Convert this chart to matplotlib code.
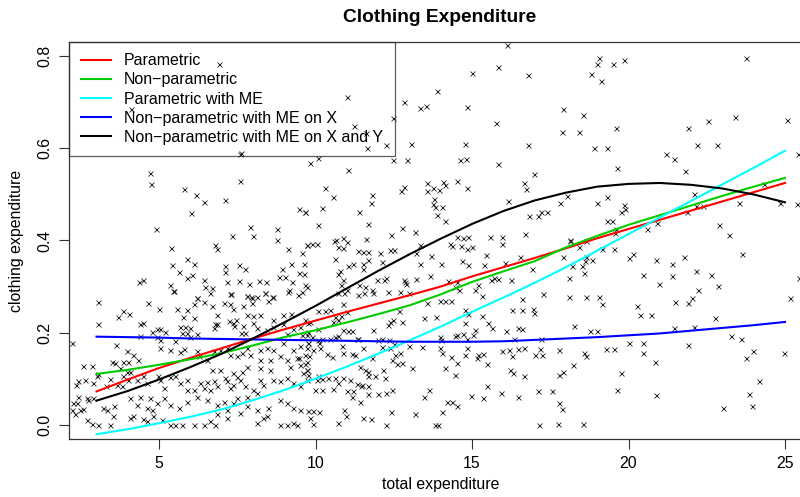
import matplotlib.pyplot as plt

plt.rcParams['font.family'] = ['Liberation Sans', 'DejaVu Sans']

pts_low_left = [
    (3.06, .267), (4.64, .265), (5.46, .290), (6.20, .276), (6.13, .263), (6.42, .266), (6.70, .257),
    (7.06, .265), (7.31, .283), (7.27, .263), (7.80, .279), (7.93, .278), (8.12, .278), (7.96, .265),
    (7.69, .258), (7.37, .252), (8.39, .285), (8.49, .268), (8.65, .278), (9.13, .289), (9.45, .281),
    (5.01, .252), (3.84, .247), (3.70, .233), (4.05, .240), (5.56, .252), (5.88, .250), (5.76, .234),
    (6.10, .231), (6.84, .238), (7.46, .228), (7.82, .238), (8.01, .236), (8.23, .239), (8.65, .227),
    (8.97, .238), (9.21, .240), (9.77, .220), (3.04, .218), (4.39, .218), (4.47, .220), (4.77, .202),
    (4.92, .207), (5.03, .208), (5.20, .202), (4.92, .191), (5.03, .184), (4.39, .193), (5.51, .182),
    (5.67, .213), (5.83, .213), (5.99, .209), (5.88, .198), (5.99, .191), (6.20, .197), (5.72, .198),
    (6.74, .209), (6.79, .218), (6.86, .218), (7.22, .225), (7.37, .220), (7.40, .215), (7.69, .214),
    (8.01, .221), (7.73, .198), (7.62, .198), (8.12, .210), (8.44, .205), (8.65, .211), (8.97, .218),
    (9.29, .207), (9.50, .213), (9.08, .196), (9.56, .195), (9.50, .170), (9.77, .177), (9.72, .195),
    (2.21, .178), (3.62, .174), (3.97, .160), (4.18, .151), (4.32, .141), (5.03, .166), (5.35, .162),
    (5.67, .157), (5.80, .164), (6.20, .159), (6.26, .148), (6.52, .141), (6.74, .159), (6.95, .162),
    (7.16, .166), (7.27, .151), (7.48, .148), (7.64, .155), (7.80, .166), (7.91, .151), (8.23, .162),
    (8.44, .166), (8.65, .162), (8.23, .141), (8.55, .141), (8.87, .148), (8.97, .177), (9.29, .162),
    (9.66, .151), (9.47, .144), (9.72, .137), (3.49, .135), (3.59, .133), (3.86, .135), (4.02, .137),
    (3.75, .123), (3.97, .115), (4.07, .115), (2.58, .128), (2.87, .128), (3.04, .110), (2.35, .087),
    (2.42, .094), (2.64, .097), (2.90, .090), (3.01, .106), (3.31, .083), (3.43, .099), (3.65, .087),
    (3.81, .083), (3.86, .106), (4.02, .097), (4.29, .097), (4.50, .106), (4.61, .090), (4.98, .105),
    (5.03, .097), (5.14, .079), (5.35, .103), (5.51, .106), (5.67, .090), (5.88, .096), (5.88, .076),
    (6.10, .076), (6.31, .090), (6.42, .079), (6.52, .092), (6.63, .076), (6.74, .094), (6.84, .083),
    (7.11, .101), (7.16, .094), (7.27, .079), (7.37, .087), (7.48, .103), (7.59, .097), (7.75, .083),
    (8.01, .076), (8.23, .097), (8.33, .087), (8.65, .097), (8.87, .094), (9.08, .101), (9.29, .090),
    (9.50, .083), (9.72, .097), (9.72, .119), (9.50, .130), (9.61, .112), (9.19, .126), (9.40, .144),
    (9.08, .141), (8.23, .123), (7.64, .115), (7.80, .126), (8.55, .119), (7.37, .112), (6.95, .119),
    (6.68, .119), (2.26, .047), (2.21, .032), (2.37, .047), (2.42, .061), (2.69, .058), (2.74, .054),
    (2.88, .058), (2.56, .034), (2.48, .031), (3.22, .035), (3.33, .031), (3.57, .040), (4.07, .058),
    (4.39, .061), (4.71, .058), (4.29, .043), (4.61, .036), (4.77, .032), (4.92, .047), (5.14, .058),
    (5.35, .043), (5.62, .036), (5.88, .050), (6.20, .061), (6.52, .054), (6.84, .043), (7.06, .050),
    (7.48, .058), (7.80, .061), (8.12, .069), (7.16, .032), (7.59, .025), (7.80, .040), (8.12, .032),
    (8.44, .018), (8.49, .036), (8.87, .054), (9.08, .047), (9.29, .036), (9.50, .032), (2.32, .022),
    (2.69, .011), (2.85, .002), (3.06, .000), (3.43, .000), (3.54, .018), (4.07, .014), (4.18, .018),
    (4.50, .012), (4.61, .007), (4.82, .018), (5.09, .009), (5.35, .000), (5.51, .000), (5.72, .000),
    (6.10, .000), (6.42, .000), (6.63, .007), (6.79, .000), (6.84, .022), (7.16, .014), (7.37, .047),
    (8.12, .004), (8.33, .014), (8.87, .000), (9.08, .000), (9.29, .004), (9.40, .000),
]

pts_mid_left = [
    (6.90, .784), (4.10, .685), (7.57, .587),
    (4.71, .546), (4.74, .523), (5.78, .512), (6.18, .499), (6.44, .483), (7.11, .489), (7.59, .530),
    (7.62, .591), (6.02, .460), (4.89, .424), (7.89, .430), (7.34, .409), (8.01, .409), (8.78, .425),
    (8.78, .402), (9.46, .468), (9.67, .463), (9.72, .391), (6.80, .391), (6.86, .381), (5.37, .384),
    (9.13, .381), (9.55, .372), (5.88, .360), (6.11, .349), (5.40, .347), (5.62, .332), (5.88, .319),
    (6.06, .324), (4.36, .309), (4.50, .315), (5.35, .304), (5.44, .290), (6.20, .276), (6.44, .314),
    (6.48, .298), (6.70, .296), (6.63, .286), (7.11, .345), (7.12, .332), (7.16, .309), (7.56, .347),
    (7.73, .338), (7.56, .313), (7.87, .306), (7.27, .283), (7.82, .280), (8.18, .311), (8.41, .309),
    (8.39, .285), (8.60, .277), (8.83, .321), (9.01, .321), (8.94, .339), (9.22, .348), (9.64, .349),
    (9.24, .309), (9.46, .329), (9.64, .327), (9.71, .300), (9.14, .292), (9.58, .288), (7.96, .276),
]

pts_mid_top = [
    (16.11, .824), (15.84, .778), (15.01, .764), (16.80, .760), (13.87, .724), (10.99, .712),
    (12.84, .700), (13.34, .688), (13.52, .693), (14.85, .690), (15.77, .656), (12.46, .667),
    (11.24, .649), (11.60, .634), (11.64, .600), (12.24, .608), (13.05, .610), (14.78, .610),
    (16.80, .608), (9.83, .569), (10.09, .580), (12.46, .574), (12.91, .574), (14.62, .575),
    (14.80, .577), (15.82, .566), (11.03, .553), (16.98, .544), (10.30, .515), (10.57, .494),
    (11.79, .499), (11.77, .481), (12.72, .508), (12.84, .517), (13.57, .526), (13.57, .507),
    (13.74, .514), (13.93, .510), (14.06, .528), (14.12, .520), (14.53, .530), (14.85, .513),
    (16.66, .524), (16.72, .512), (13.77, .490), (13.74, .479), (14.05, .472), (13.82, .472),
    (16.16, .486), (9.67, .461), (10.22, .471), (11.40, .461), (13.87, .456), (14.14, .443),
    (16.82, .453), (17.12, .454), (17.20, .463), (17.41, .463), (10.07, .434), (11.69, .435),
    (12.75, .427), (13.18, .419), (12.41, .413), (10.64, .401), (10.86, .406), (11.60, .404),
    (14.51, .407), (14.72, .405), (14.88, .407), (15.58, .407), (15.95, .407), (16.69, .414),
]

pts_mid_low = [
    (9.72, .391), (9.88, .393), (10.06, .393), (10.60, .398), (10.73, .386), (10.86, .384), (10.99, .396),
    (11.37, .378), (11.50, .375), (11.66, .376), (12.06, .373), (12.38, .380), (12.52, .380), (13.34, .391),
    (14.30, .393), (14.37, .389), (14.65, .389), (14.83, .381), (15.01, .386), (15.95, .393), (13.69, .366),
    (13.21, .373), (10.62, .360), (11.05, .344), (11.21, .348), (11.50, .350), (11.69, .357), (11.50, .339),
    (12.11, .353), (13.34, .350), (14.00, .350), (14.67, .355), (14.88, .346), (15.38, .346), (15.44, .368),
    (16.06, .351), (16.54, .365), (10.78, .334), (10.71, .328), (10.89, .314), (10.80, .303), (11.40, .303),
    (11.58, .299), (11.80, .293), (11.96, .314), (12.20, .314), (12.25, .319), (12.84, .315), (12.89, .306),
    (13.21, .317), (13.66, .322), (12.86, .310), (14.22, .311), (14.51, .310), (14.44, .298), (14.59, .292),
    (15.10, .292), (15.18, .303), (15.61, .315), (15.71, .319), (15.84, .316), (16.25, .315), (16.91, .337),
    (17.26, .283), (16.59, .272), (10.73, .285), (10.99, .292), (10.92, .285), (10.86, .263), (11.37, .281),
    (11.55, .285), (11.85, .285), (12.31, .287), (12.70, .288), (12.99, .285), (13.55, .265), (13.98, .268),
    (14.14, .268), (14.33, .269), (15.31, .279), (16.27, .250), (16.61, .249), (16.94, .251), (16.99, .243),
    (9.67, .303), (9.67, .227), (9.83, .223), (10.09, .246), (10.30, .246), (10.46, .249), (10.57, .223),
    (10.73, .227), (10.99, .245), (10.62, .233), (10.82, .236), (11.85, .205), (12.31, .216), (12.38, .223),
    (12.46, .227), (12.65, .247), (12.75, .223), (13.47, .232), (13.85, .234), (14.78, .250), (14.88, .241),
    (15.33, .236), (14.76, .221), (14.70, .196), (15.10, .205), (15.04, .195), (15.50, .220), (15.63, .209),
    (16.08, .204), (16.48, .209), (16.61, .207), (17.20, .187), (9.77, .202), (10.07, .207), (9.88, .191),
    (10.09, .184), (10.22, .185), (10.46, .185), (10.62, .190), (10.73, .192), (10.86, .205), (11.05, .204),
    (11.16, .204), (11.32, .187), (11.37, .187), (12.01, .184), (12.11, .185), (12.33, .184), (13.98, .190),
    (14.00, .184), (14.44, .192), (14.51, .195), (14.85, .185), (16.35, .185), (9.77, .177), (10.12, .177),
    (9.72, .166), (9.79, .149), (9.93, .162), (10.14, .166), (10.36, .153), (10.54, .146), (10.84, .171),
    (10.89, .155), (11.16, .154), (11.26, .151), (11.53, .167), (11.80, .144), (12.11, .169), (12.38, .166),
    (12.49, .175), (12.54, .151), (12.70, .155), (12.97, .171), (13.39, .168), (13.98, .166), (14.03, .155),
    (14.32, .146), (14.51, .133), (14.78, .151), (14.83, .166), (15.15, .144), (15.20, .151), (15.36, .154),
    (15.47, .132), (15.97, .159), (16.18, .162), (16.27, .148), (16.46, .164), (16.66, .166), (17.01, .151),
    (17.17, .164), (17.23, .151), (9.67, .132), (9.72, .119), (9.77, .108), (10.09, .105), (10.04, .097),
    (10.22, .099), (10.41, .101), (10.62, .101), (10.71, .090), (10.89, .101), (11.10, .097), (11.42, .125),
    (11.58, .119), (11.69, .115), (11.69, .105), (11.90, .105), (12.14, .119), (12.22, .101), (11.32, .089),
    (11.48, .087), (11.67, .084), (12.43, .141), (12.59, .132), (12.75, .133), (13.07, .123), (14.14, .123),
    (14.46, .108), (16.21, .119), (16.30, .113), (16.67, .106), (9.98, .076), (10.20, .076), (10.57, .078),
    (10.99, .072), (11.21, .074), (11.45, .083), (11.69, .067), (12.01, .066), (12.25, .068), (12.43, .076),
    (13.45, .060), (13.63, .076), (14.21, .049), (14.35, .050), (14.51, .041), (14.96, .063), (15.36, .058),
    (15.47, .083), (15.93, .068), (16.46, .061), (17.10, .072), (11.16, .060), (11.42, .050), (9.77, .029),
    (9.93, .029), (10.11, .027), (10.92, .031), (10.96, .018), (11.53, .014), (11.77, .012), (12.41, .027),
    (13.18, .024), (14.03, .027), (9.83, .014), (9.93, .001), (10.71, .004), (12.24, .000), (13.80, .000),
    (13.90, .000), (17.15, .000),
]

pts_right = [
    (18.13, .399), (18.43, .386), (18.64, .398), (19.16, .382), (19.54, .382), (17.92, .364), (18.64, .365),
    (18.61, .355), (18.84, .357), (18.18, .345), (18.50, .345), (18.59, .330), (18.11, .319), (20.02, .362),
    (20.15, .370), (20.88, .358), (21.38, .348), (21.77, .364), (23.64, .370), (20.47, .324), (21.38, .322),
    (22.15, .333), (22.64, .326), (20.99, .305), (22.87, .301), (22.23, .293), (25.46, .319), (18.11, .277),
    (18.64, .277), (19.07, .277), (19.14, .263), (20.28, .258), (21.49, .267), (21.91, .265), (22.02, .276),
    (25.16, .276), (20.37, .239), (20.72, .238), (22.76, .232), (18.27, .215), (18.77, .204), (19.00, .204),
    (21.46, .210), (22.09, .213), (23.27, .192), (23.60, .185), (17.79, .162), (18.59, .155), (18.64, .150),
    (19.28, .164), (19.54, .164), (20.02, .178), (20.45, .178), (21.91, .174), (20.45, .156), (23.99, .159),
    (23.74, .144), (24.98, .156), (20.85, .136), (18.24, .130), (17.92, .114), (17.78, .107), (19.75, .112),
    (24.17, .094), (17.57, .072), (19.64, .076), (20.88, .065), (23.86, .067), (17.78, .047), (17.86, .033),
    (23.03, .037), (23.94, .041), (17.74, .001), (18.56, .001),
    (19.06, .796), (18.98, .783), (19.49, .783), (19.87, .793), (23.75, .796), (18.80, .762), (19.12, .746),
    (17.90, .686), (18.54, .672), (17.89, .636), (18.43, .636), (19.60, .645), (21.91, .645), (22.53, .659),
    (23.40, .668), (25.05, .661), (18.91, .600), (19.30, .600), (22.18, .608), (22.82, .608), (21.20, .587),
    (21.46, .578), (25.43, .587), (19.64, .557), (21.81, .550), (18.02, .497), (17.81, .482), (18.98, .481),
    (19.32, .495), (19.86, .478), (19.90, .469), (19.75, .461), (22.09, .502), (23.54, .482), (24.84, .482),
    (25.39, .480), (24.33, .522), (22.16, .475), (22.39, .475), (21.88, .462), (20.90, .439), (20.60, .425),
    (19.30, .443), (19.47, .443), (19.60, .425), (19.57, .416), (22.88, .434), (23.22, .411), (18.13, .401),
]

# fitted curves, evaluated at total expenditure 3..25
curve_x = [3, 4, 5, 6, 7, 8, 9, 10, 11, 12, 13, 14, 15, 16, 17, 18, 19, 20, 21, 22, 23, 24, 25]
parametric = [.072, .098, .123, .145, .166, .187, .207, .226, .245, .263, .281, .300,
              .322, .342, .362, .383, .405, .425, .445, .465, .485, .505, .525]
nonparametric = [.110, .119, .130, .142, .155, .172, .190, .205, .222, .240, .259, .283,
                 .310, .333, .355, .385, .410, .434, .455, .476, .497, .517, .536]
parametric_me = [-.021, -.010, .003, .017, .033, .053, .075, .100, .126, .154, .183, .213,
                 .245, .276, .308, .342, .378, .414, .450, .486, .522, .558, .595]
nonpar_me_x = [.191, .190, .189, .187, .186, .185, .184, .183, .182, .181, .180, .180,
               .180, .181, .184, .187, .190, .194, .198, .204, .210, .216, .223]
nonpar_me_xy = [.052, .073, .098, .125, .154, .187, .222, .258, .296, .334, .370, .404,
                .436, .464, .487, .504, .517, .523, .525, .521, .513, .500, .483]

labels = ['Parametric', 'Non\u2212parametric', 'Parametric with ME',
          'Non\u2212parametric with ME on X', 'Non\u2212parametric with ME on X and Y']
colors = ['#ff0000', '#00cd00', '#00ffff', '#0000ff', '#000000']

fig = plt.figure(figsize=(8, 4.97), dpi=100)
ax = fig.add_axes([0.08625, 0.1161, 0.9294, 0.8000])

all_pts = pts_low_left + pts_mid_left + pts_mid_top + pts_mid_low + pts_right
ax.plot([p[0] for p in all_pts], [p[1] for p in all_pts], 'x', ls='none',
        ms=3.6, mew=0.6, color='#222222')

for ys, c, lab in zip([parametric, nonparametric, parametric_me, nonpar_me_x, nonpar_me_xy],
                      colors, labels):
    ax.plot(curve_x, ys, color=c, lw=1.5, label=lab)

ax.set_xlim(2.12, 25.88)
ax.set_ylim(-0.032, 0.832)
ax.set_xticks([5, 10, 15, 20, 25])
ax.set_yticks([0, 0.2, 0.4, 0.6, 0.8])
ax.set_yticklabels(['0.0', '0.2', '0.4', '0.6', '0.8'], rotation=90, va='center')
ax.tick_params(direction='out', length=7, width=0.8, labelsize=11.4, pad=5, color='#333333')
for s in ax.spines.values():
    s.set_linewidth(0.9)
    s.set_color('#333333')

leg = ax.legend(loc='upper left', bbox_to_anchor=(0, 1), borderaxespad=0, fancybox=False,
                fontsize=11.5, handlelength=1.9, handletextpad=0.83, borderpad=0.72,
                labelspacing=0.26)
leg.get_frame().set_facecolor('none')
leg.get_frame().set_edgecolor('#333333')
leg.get_frame().set_linewidth(0.9)

fig.text(440 / 800, 1 - 17 / 497, 'Clothing Expenditure', ha='center', va='center',
         fontsize=13.8, fontweight='bold')
fig.text(440.7 / 800, 1 - 485 / 497, 'total expenditure', ha='center', va='center', fontsize=11.4)
fig.text(16.5 / 800, 1 - 240.5 / 497, 'clothing expenditure', ha='center', va='center',
         rotation=90, fontsize=11.4)

fig.savefig('out.png', dpi=100)
